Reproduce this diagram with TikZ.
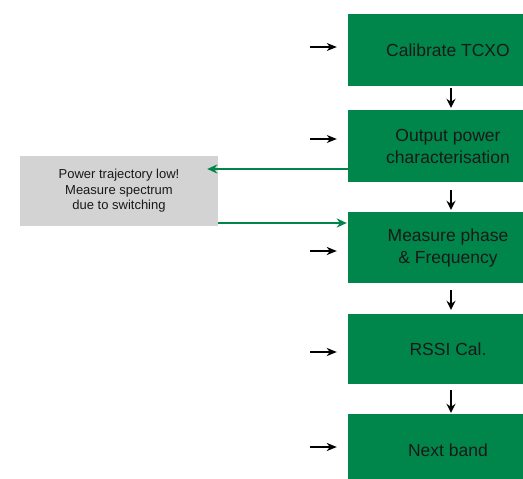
\documentclass[tikz,border=0pt]{standalone}
\usepackage{fontspec}
\setmainfont{Liberation Sans}
\usetikzlibrary{arrows.meta}
\definecolor{boxgreen}{RGB}{0,134,74}
\definecolor{boxgray}{RGB}{211,211,211}
\begin{document}
\begin{tikzpicture}[x=1pt,y=-1pt,
  stepbox/.style={fill=boxgreen, minimum width=200pt, minimum height=72pt, inner sep=0pt,
    font=\fontsize{17.5}{22}\selectfont, align=center, text=black!90},
  notebox/.style={fill=boxgray, minimum width=198pt, minimum height=70pt, inner sep=0pt,
    font=\fontsize{13}{15.5}\selectfont, align=center, text=black!90},
  inarrow/.style={draw=black, line width=1.8pt, -{Stealth[length=10pt,width=8pt,inset=3pt]}, shorten >=11pt},
  varrow/.style={draw=black, line width=1.8pt, -{Stealth[length=9pt,width=9pt,inset=3pt]}},
  garrow/.style={draw=boxgreen, line width=1.6pt, -{Stealth[length=10pt,width=9pt,inset=3pt]}}]
\useasboundingbox (0,0) rectangle (523,479);
\clip (0,0) rectangle (523,479);
\fill[white] (0,0) rectangle (523,479);

\node[stepbox] (box1) at (448,50) {Calibrate TCXO};
\node[stepbox] (box2) at (448,146) {Output power\\characterisation};
\node[stepbox, minimum height=71pt] (box3) at (448,247.5) {Measure phase\\\& Frequency};
\node[stepbox, minimum height=70pt] (box4) at (448,349) {RSSI Cal.};
\node[stepbox] (box5) at (448,450) {Next band};

\node[notebox] (gray) at (119,191) {Power trajectory low!\\Measure spectrum\\due to switching};

% input arrows
\coordinate (in1) at (310,47);
\coordinate (in2) at (310,139);
\coordinate (in3) at (310,251);
\coordinate (in4) at (310,352);
\coordinate (in5) at (310,447);
\draw[inarrow, line width=1.1pt] (in1) -- (in1 -| box1.west);
\draw[inarrow, line width=1.1pt] (in2) -- (in2 -| box2.west);
\draw[inarrow] (in3) -- (in3 -| box3.west);
\draw[inarrow] (in4) -- (in4 -| box4.west);
\draw[inarrow] (in5) -- (in5 -| box5.west);

% vertical arrows
\draw[varrow, shorten <=2pt, shorten >=2pt] ([xshift=3pt]box1.south) -- ([xshift=3pt]box2.north);
\draw[varrow, shorten <=8pt, shorten >=2pt] ([xshift=3pt]box2.south) -- ([xshift=3pt]box3.north);
\draw[varrow, shorten <=7pt, shorten >=4pt] ([xshift=3pt]box3.south) -- ([xshift=3pt]box4.north);
\draw[varrow, shorten <=6pt, shorten >=1pt] ([xshift=3pt]box4.south) -- ([xshift=3pt]box5.north);

% green arrows
\coordinate (g1) at ([yshift=-23pt]box2.west);
\draw[garrow, shorten >=-11pt] (g1) -- (g1 -| gray.east);
\coordinate (g2) at ([yshift=-32pt]gray.east);
\draw[garrow, shorten >=1pt] (g2) -- (g2 -| box3.west);
\end{tikzpicture}
\end{document}
